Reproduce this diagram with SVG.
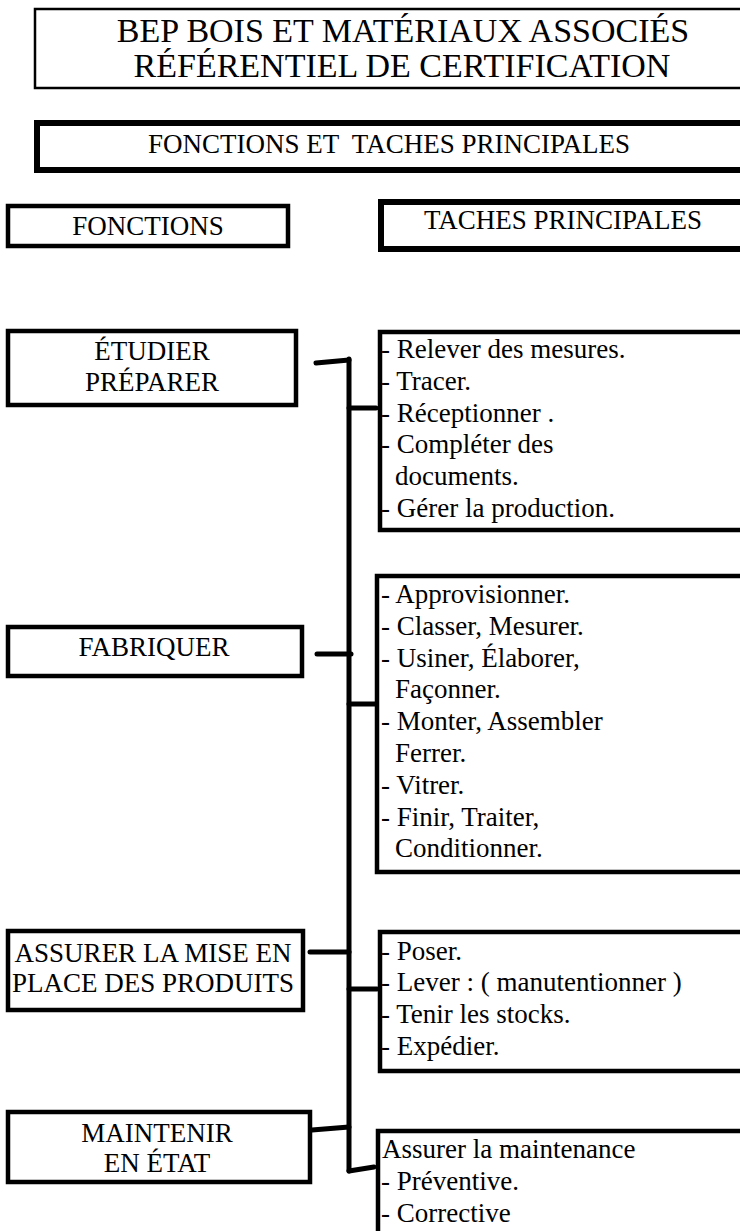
<svg xmlns="http://www.w3.org/2000/svg" width="740" height="1231" viewBox="0 0 740 1231">
<style>
text{font-family:"Liberation Serif","Times New Roman",serif;fill:#000;font-size:27px}
.c{text-anchor:middle}
.t{font-size:34px}
.box{fill:#fff;stroke:#000;stroke-width:4.5}
.thin{fill:#fff;stroke:#000;stroke-width:2.5}
.thick{fill:#fff;stroke:#000;stroke-width:6}
.con{fill:none;stroke:#000;stroke-width:5;stroke-linecap:round;stroke-linejoin:miter}
</style>
<rect width="740" height="1231" fill="#fff"/>
<g id="title">
<rect class="thin" x="35" y="9" width="740" height="79"/>
<text class="c t" x="403" y="42">BEP BOIS ET MATÉRIAUX ASSOCIÉS</text>
<text class="c t" x="402" y="77">RÉFÉRENTIEL DE CERTIFICATION</text>
</g>
<g id="header">
<rect class="thick" x="37" y="123" width="740" height="47"/>
<text class="c" x="389" y="153" xml:space="preserve">FONCTIONS ET  TACHES PRINCIPALES</text>
</g>
<g id="col-fonctions">
<rect class="box" x="8" y="206" width="280" height="40"/>
<text class="c" x="148" y="235">FONCTIONS</text>
</g>
<g id="col-taches">
<rect class="thick" x="381" y="202" width="400" height="47"/>
<text class="c" x="563" y="229">TACHES PRINCIPALES</text>
</g>
<g id="connectors">
<line class="con" x1="349" y1="359" x2="349" y2="1171"/>
<polyline class="con" points="316,363 349,360"/>
<line class="con" x1="349" y1="408" x2="376" y2="408"/>
<line class="con" x1="317" y1="654" x2="351" y2="654"/>
<line class="con" x1="349" y1="704" x2="377" y2="704"/>
<line class="con" x1="310" y1="952" x2="349" y2="952"/>
<line class="con" x1="349" y1="989" x2="377" y2="989"/>
<line class="con" x1="312" y1="1130" x2="349" y2="1127"/>
<line class="con" x1="349" y1="1171" x2="374" y2="1167"/>
</g>
<g id="f-etudier">
<rect class="box" x="8" y="331" width="288" height="74"/>
<text class="c" x="152" y="360">ÉTUDIER</text>
<text class="c" x="152" y="391">PRÉPARER</text>
</g>
<g id="t-etudier">
<rect class="box" x="380" y="332" width="400" height="198"/>
<text x="381" y="358">- Relever des mesures.</text>
<text x="381" y="390">- Tracer.</text>
<text x="381" y="422">- Réceptionner .</text>
<text x="381" y="453">- Compléter des</text>
<text x="395" y="485">documents.</text>
<text x="381" y="517">- Gérer la production.</text>
</g>
<g id="f-fabriquer">
<rect class="box" x="8" y="627" width="294" height="49"/>
<text class="c" x="154" y="656">FABRIQUER</text>
</g>
<g id="t-fabriquer">
<rect class="box" x="377" y="576" width="400" height="296"/>
<text x="381" y="603">- Approvisionner.</text>
<text x="381" y="635">- Classer, Mesurer.</text>
<text x="381" y="667">- Usiner, Élaborer,</text>
<text x="395" y="698">Façonner.</text>
<text x="381" y="730">- Monter, Assembler</text>
<text x="395" y="762">Ferrer.</text>
<text x="381" y="794">- Vitrer.</text>
<text x="381" y="826">- Finir, Traiter,</text>
<text x="395" y="857">Conditionner.</text>
</g>
<g id="f-assurer">
<rect class="box" x="8" y="931" width="295" height="79"/>
<text class="c" x="153" y="962">ASSURER LA MISE EN</text>
<text class="c" x="153" y="992">PLACE DES PRODUITS</text>
</g>
<g id="t-assurer">
<rect class="box" x="380" y="932" width="400" height="139"/>
<text x="381" y="960">- Poser.</text>
<text x="381" y="991">- Lever : ( manutentionner )</text>
<text x="381" y="1023">- Tenir les stocks.</text>
<text x="381" y="1055">- Expédier.</text>
</g>
<g id="f-maintenir">
<rect class="box" x="8" y="1112" width="302" height="70"/>
<text class="c" x="157" y="1142">MAINTENIR</text>
<text class="c" x="157" y="1172">EN ÉTAT</text>
</g>
<g id="t-maintenir">
<rect class="box" x="378" y="1131" width="400" height="140"/>
<text x="382" y="1158">Assurer la maintenance</text>
<text x="381" y="1190">- Préventive.</text>
<text x="381" y="1222">- Corrective</text>
</g>
</svg>
